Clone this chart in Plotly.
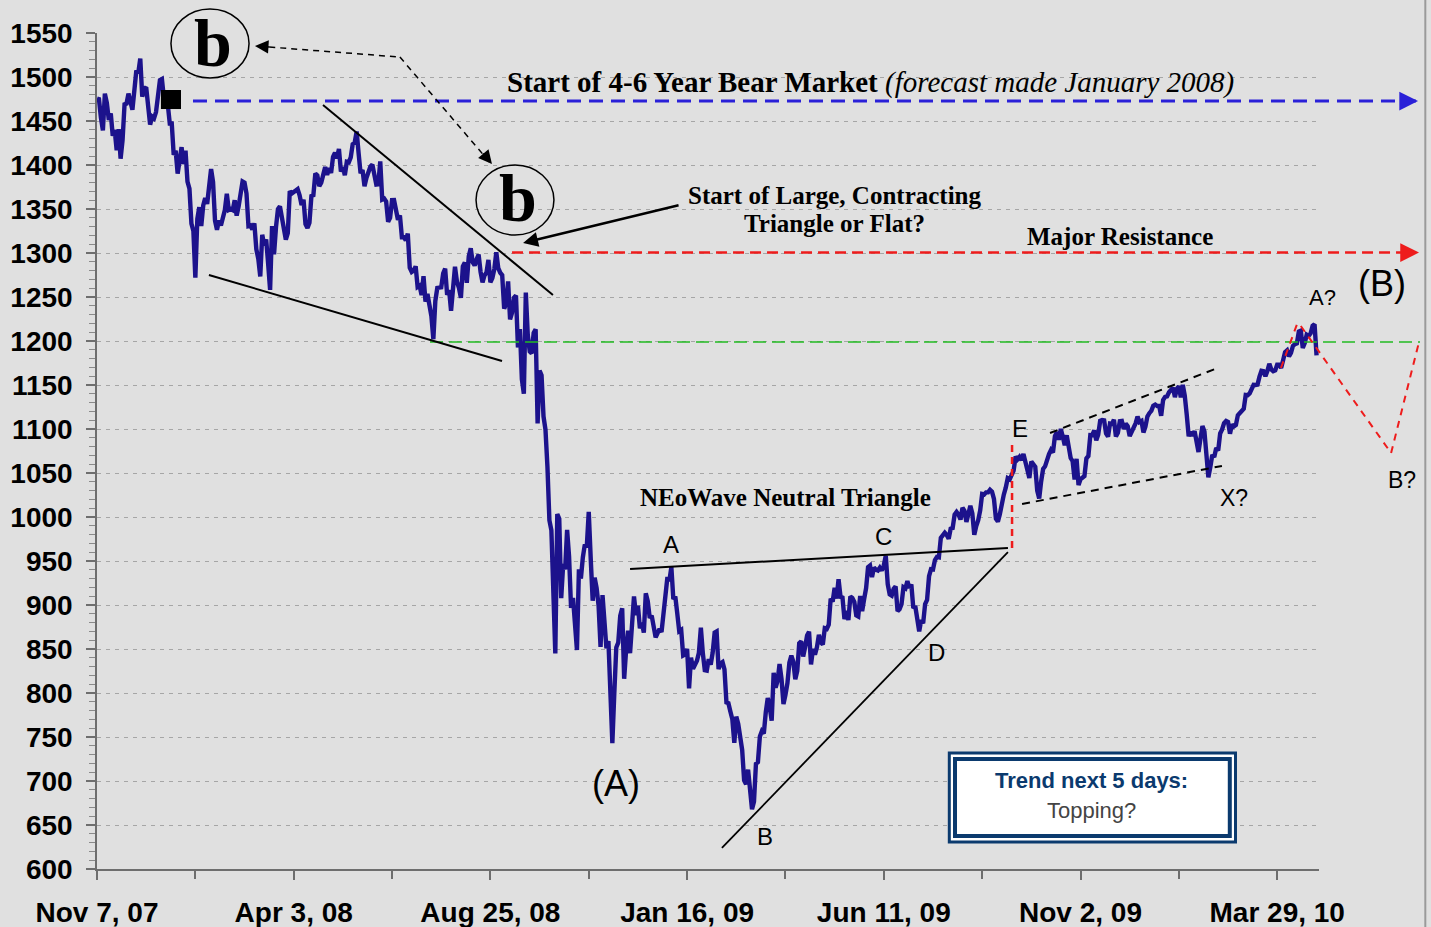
import plotly.graph_objects as go

# ---------------- data: S&P 500 daily values (trading days from Nov 7, 2007) ----------------
nov07 = [1475.6, 1474.8, 1453.7, 1439.2, 1481.1, 1470.6, 1451.2, 1458.7, 1433.3, 1439.7, 1416.8, 1440.7, 1407.2, 1428.2, 1469.0, 1469.7, 1481.1]
dec07 = [1472.4, 1462.8, 1485.0, 1507.3, 1504.7, 1521.0, 1477.7, 1486.6, 1488.4, 1468.0, 1445.9, 1455.0, 1453.0, 1460.1, 1484.5, 1496.5, 1497.7, 1476.3, 1478.5, 1468.4]
jan08 = [1447.2, 1447.2, 1411.6, 1416.2, 1390.2, 1409.1, 1420.3, 1401.0, 1416.3, 1381.0, 1373.2, 1333.3, 1325.2, 1272.0, 1338.6, 1352.1, 1330.6, 1354.0, 1362.3, 1355.8, 1378.6]
feb08 = [1395.4, 1380.8, 1336.6, 1326.5, 1336.9, 1331.3, 1339.1, 1348.9, 1367.2, 1348.9, 1350.0, 1348.8, 1360.0, 1342.5, 1353.1, 1371.8, 1381.3, 1380.0, 1367.7, 1330.6]
mar08 = [1331.3, 1326.8, 1333.7, 1304.3, 1293.4, 1273.4, 1320.7, 1308.8, 1315.5, 1288.1, 1258.0, 1330.7, 1298.4, 1329.5, 1349.9, 1353.0, 1341.1, 1325.8, 1315.2, 1322.7]
apr08 = [1370.2, 1367.5, 1369.3, 1370.4, 1372.5, 1365.5, 1354.5, 1360.6, 1332.8, 1328.3, 1334.4, 1364.7, 1365.6, 1390.3, 1388.2, 1375.9, 1379.9, 1388.8, 1397.8, 1388.8, 1396.4, 1390.9]
may08 = [1409.3, 1413.9, 1407.5, 1418.3, 1392.6, 1397.7, 1388.3, 1403.6, 1403.0, 1408.7, 1423.6, 1425.4, 1438.0, 1413.4, 1390.7, 1394.4, 1375.9, 1385.4, 1390.8, 1398.3, 1400.4]
jun08 = [1385.7, 1377.7, 1378.0, 1404.1, 1360.7, 1361.8, 1358.4, 1335.5, 1339.9, 1360.0, 1360.1, 1350.9, 1337.8, 1342.8, 1317.9, 1318.0, 1314.3, 1322.0, 1283.2, 1278.4, 1280.0]
jul08 = [1284.9, 1261.5, 1262.9, 1252.3, 1273.7, 1244.7, 1253.4, 1239.5, 1228.3, 1202.0, 1245.4, 1260.3, 1260.7, 1261.0, 1277.0, 1282.2, 1252.5, 1257.8, 1234.4, 1263.2, 1284.3, 1267.4]
aug08 = [1260.3, 1249.0, 1284.9, 1289.2, 1266.1, 1296.3, 1305.3, 1289.6, 1285.8, 1292.9, 1298.2, 1278.6, 1266.7, 1274.5, 1277.7, 1292.2, 1266.8, 1271.5, 1281.7, 1300.7, 1282.8]
sep08 = [1277.6, 1275.0, 1236.8, 1242.3, 1267.8, 1224.5, 1232.0, 1249.1, 1251.7, 1192.7, 1213.6, 1156.4, 1140.0, 1255.1, 1207.1, 1188.2, 1185.9, 1209.2, 1213.3, 1106.4, 1166.4]
oct08 = [1161.1, 1114.3, 1099.2, 1056.9, 996.2, 984.9, 909.9, 845.0, 1003.4, 998.0, 907.8, 946.4, 940.6, 985.4, 955.1, 896.8, 908.1, 876.8, 848.9, 940.5, 930.1, 954.1, 968.8]
nov08 = [966.3, 1005.8, 952.8, 904.9, 931.0, 919.2, 899.0, 852.3, 911.3, 873.3, 850.8, 859.1, 806.6, 743.0, 800.0, 851.8, 857.4, 887.7, 896.2]
dec08 = [816.2, 848.8, 870.7, 845.2, 876.1, 909.7, 888.7, 899.2, 873.6, 879.7, 868.6, 913.2, 904.4, 885.3, 887.9, 871.6, 863.2, 868.2, 872.8, 869.4, 890.6, 903.3]
jan09 = [931.8, 927.5, 943.0, 906.7, 909.7, 890.4, 870.3, 871.8, 842.6, 843.7, 850.1, 805.2, 840.2, 827.5, 832.0, 836.6, 845.7, 874.1, 845.1, 825.9]
feb09 = [825.4, 838.5, 832.2, 845.9, 868.6, 869.9, 827.2, 833.7, 835.2, 826.8, 789.2, 788.4, 778.9, 770.1, 743.3, 773.1, 764.9, 752.8, 735.1]
mar09 = [700.8, 696.3, 712.9, 682.6, 668.0, 676.5, 719.6, 721.4, 750.7, 756.6, 753.9, 778.1, 794.4, 784.0, 768.5, 822.9, 806.1, 813.9, 832.9, 815.9, 787.5, 797.9]
apr09 = [811.1, 834.4, 842.5, 835.5, 815.6, 825.2, 856.6, 858.7, 841.5, 852.1, 865.3, 869.6, 832.4, 850.1, 843.6, 851.9, 866.2, 857.5, 855.2, 873.6, 872.8]
may09 = [877.5, 907.2, 903.8, 919.5, 907.4, 929.2, 909.2, 908.4, 883.9, 893.1, 882.9, 909.7, 908.1, 903.5, 888.3, 887.0, 910.3, 893.1, 906.8, 919.1]
jun09 = [942.9, 944.7, 931.8, 942.5, 940.1, 939.1, 942.4, 939.2, 944.9, 956.0, 923.7, 912.0, 910.7, 918.4, 921.2, 893.0, 895.1, 900.9, 920.3, 918.9, 927.2, 919.3]
jul09 = [923.3, 896.4, 898.7, 881.0, 870.0, 882.7, 879.1, 901.1, 905.8, 932.7, 940.7, 940.4, 951.1, 954.6, 954.1, 976.3, 979.3, 982.2, 979.6, 975.2, 986.8, 987.5]
aug09 = [1002.6, 1005.7, 1002.7, 997.1, 1010.5, 1007.1, 994.4, 1005.8, 1012.7, 1004.1, 979.7, 989.7, 996.5, 1007.4, 1026.1, 1025.6, 1028.0, 1028.1, 1031.0, 1028.9, 1020.6]
sep09 = [998.0, 994.8, 1003.2, 1016.4, 1025.4, 1033.4, 1044.1, 1042.7, 1049.3, 1052.6, 1068.8, 1065.5, 1068.3, 1064.7, 1071.7, 1060.9, 1050.8, 1044.4, 1063.0, 1060.6, 1057.1]
oct09 = [1029.9, 1021.0, 1040.5, 1054.7, 1057.6, 1065.5, 1071.5, 1076.2, 1073.2, 1092.0, 1096.6, 1087.7, 1100.0, 1091.1, 1081.4, 1092.9, 1079.6, 1067.0, 1063.4, 1042.6, 1066.1, 1036.2]
nov09 = [1042.9, 1045.4, 1046.5, 1066.6, 1069.3, 1093.1, 1093.0, 1098.5, 1087.2, 1093.5, 1109.3, 1110.3, 1109.8, 1094.9, 1091.4, 1106.2, 1105.7, 1110.6, 1091.5, 1095.6]
dec09 = [1108.9, 1109.2, 1099.9, 1106.0, 1103.3, 1091.9, 1096.0, 1102.4, 1106.4, 1114.1, 1107.9, 1109.2, 1096.1, 1102.5, 1114.1, 1118.0, 1120.6, 1126.5, 1127.8, 1126.2, 1126.4, 1115.1]
jan10 = [1133.0, 1136.5, 1137.1, 1141.7, 1145.0, 1147.0, 1136.2, 1145.7, 1148.5, 1136.0, 1150.2, 1138.0, 1116.5, 1091.8, 1096.8, 1092.2, 1097.5, 1084.5, 1073.9]
feb10 = [1089.2, 1103.3, 1097.3, 1063.1, 1045.0, 1056.7, 1070.5, 1068.1, 1078.5, 1075.5, 1094.9, 1099.5, 1106.8, 1109.2, 1108.0, 1094.6, 1105.2, 1102.9, 1104.5]
mar10 = [1115.7, 1118.3, 1119.0, 1123.0, 1138.7, 1138.5, 1140.5, 1145.6, 1150.2, 1150.0, 1150.5, 1159.5, 1166.2, 1165.8, 1159.9, 1165.8, 1174.2, 1167.7, 1165.7, 1166.6, 1173.2, 1173.3, 1169.4]
apr10 = [1178.1, 1187.4, 1189.4, 1182.5, 1186.4, 1194.4, 1196.5, 1197.3, 1210.7, 1211.7, 1192.1, 1197.5, 1207.2, 1205.9, 1208.7, 1217.3, 1219.0, 1183.7]

tick_days = [0, 100, 200, 300, 400, 500, 600]
tick_labels = ["Nov 7, 07", "Apr 3, 08", "Aug 25, 08", "Jan 16, 09", "Jun 11, 09", "Nov 2, 09", "Mar 29, 10"]

# key levels
bear_start_level = 1472.7
resistance_level = 1300.5
support_level = 1199.0

months = [nov07, dec07, jan08, feb08, mar08, apr08, may08, jun08, jul08, aug08, sep08, oct08,
          nov08, dec08, jan09, feb09, mar09, apr09, may09, jun09, jul09, aug09, sep09, oct09,
          nov09, dec09, jan10, feb10, mar10, apr10]
prices = [v for m in months for v in m]
days = list(range(len(prices)))

# ---------------- axes geometry ----------------
X_MAX = 621.25
Y_MIN, Y_MAX = 600, 1550


def X(d):
    return d / X_MAX


def Y(p):
    return (p - Y_MIN) / (Y_MAX - Y_MIN)


SERIF = "Liberation Serif, Times New Roman, serif"
SANS = "Liberation Sans, Arial, sans-serif"
NAVY = "#1c128c"

fig = go.Figure()
fig.add_trace(go.Scatter(x=days, y=prices, mode="lines",
                         line=dict(color=NAVY, width=4.4), hoverinfo="skip", showlegend=False))

shapes = []


def line(d0, p0, d1, p1, color="black", width=2, dash="solid"):
    shapes.append(dict(type="line", xref="paper", yref="paper",
                       x0=X(d0), y0=Y(p0), x1=X(d1), y1=Y(p1),
                       line=dict(color=color, width=width, dash=dash), layer="above"))


# horizontal level lines
line(48.8, bear_start_level, 670.5, bear_start_level, "#2a20d8", 3, "14px,8px")
line(211.0, resistance_level, 670.5, resistance_level, "#ee1c1c", 2.5, "11px,6px")
line(169.3, support_level, 672.6, support_level, "#22bb22", 1.5, "13px,6px")

# trendlines
line(114.9, 1468.2, 231.8, 1252.3, "black", 2)
line(56.9, 1275.0, 205.9, 1177.3, "black", 2)
line(271.0, 940.9, 463.1, 964.8, "black", 2)
line(317.7, 623.9, 463.1, 960.2, "black", 1.8)
line(465.2, 964.8, 465.2, 1085.2, "#ee1c1c", 2.5, "7px,5px")
line(484.5, 1095.5, 568.4, 1168.2, "black", 2, "8px,6px")
line(470.3, 1014.8, 571.9, 1058.0, "black", 2, "8px,6px")

# forecast zigzag
line(601.9, 1169.3, 610.1, 1219.3, "#ee1c1c", 2, "7px,6px")
line(612.0, 1217.0, 657.9, 1072.7, "#ee1c1c", 2, "7px,6px")
line(657.9, 1072.7, 672.1, 1198.9, "#ee1c1c", 2, "7px,6px")

# dashed connector between the two "b" circles
line(82.0, 1535.0, 154.0, 1522.7, "black", 1.5, "6px,5px")
line(154.0, 1522.7, 199.5, 1403.5, "black", 1.5, "6px,5px")

# circles
shapes.append(dict(type="circle", xref="paper", yref="paper",
                   x0=X(37.6), x1=X(77.3), y0=Y(1498.9), y1=Y(1577.3),
                   line=dict(color="black", width=1.5)))
shapes.append(dict(type="circle", xref="paper", yref="paper",
                   x0=X(192.7), x1=X(232.3), y0=Y(1320.5), y1=Y(1400.0),
                   line=dict(color="black", width=1.5)))

# black square (start marker)
shapes.append(dict(type="rect", xref="paper", yref="paper",
                   x0=X(32.5), x1=X(42.7), y0=Y(1463.6), y1=Y(1485.2),
                   fillcolor="black", line=dict(width=0)))

# trend box (double border)
shapes.append(dict(type="rect", xref="paper", yref="paper",
                   x0=X(433.3), x1=X(578.8), y0=Y(630.7), y1=Y(731.8),
                   fillcolor="white", line=dict(color="#0b3a6e", width=3)))
shapes.append(dict(type="rect", xref="paper", yref="paper",
                   x0=X(436.2), x1=X(575.9), y0=Y(637.5), y1=Y(725.0),
                   fillcolor="rgba(0,0,0,0)", line=dict(color="#0b3a6e", width=4)))

# right frame border
shapes.append(dict(type="line", xref="paper", yref="paper",
                   x0=X(675.3), x1=X(675.3), y0=-0.1, y1=1.1,
                   line=dict(color="#9a9a9a", width=2)))

annotations = []


def text(d, p, s, size, family=SANS, color="black", **kw):
    annotations.append(dict(x=X(d), y=Y(p), xref="paper", yref="paper", text=s,
                            xanchor="center", yanchor="middle",
                            showarrow=False, font=dict(family=family, size=size, color=color), **kw))


def head(d, p, ax, ay, color, width, size, style):
    annotations.append(dict(x=X(d), y=Y(p), xref="paper", yref="paper", text="",
                            showarrow=True, ax=ax, ay=ay, arrowhead=style, arrowsize=size,
                            arrowwidth=width, arrowcolor=color, standoff=0))


text(59.0, 1538.6, "<b>b</b>", 68, SERIF)
text(214.0, 1362.5, "<b>b</b>", 68, SERIF)
text(393.0, 1494.3, "<b>Start of 4-6 Year Bear Market</b> <i>(forecast made January 2008)</i>", 29, SERIF)
text(374.7, 1364.8, "<b>Start of Large, Contracting</b>", 25, SERIF)
text(374.7, 1333.0, "<b>Triangle or Flat?</b>", 25, SERIF)
text(520.0, 1318.2, "<b>Major Resistance</b>", 25, SERIF)
text(349.8, 1021.6, "<b>NEoWave Neutral Triangle</b>", 25, SERIF)
text(653.3, 1265.9, "(B)", 36)
text(622.8, 1248.9, "A?", 22)
text(663.4, 1042.0, "B?", 23)
text(578.0, 1021.6, "X?", 23)
text(291.8, 969.3, "A", 24)
text(400.1, 977.3, "C", 24)
text(427.0, 845.5, "D", 24)
text(339.6, 637.5, "B", 24)
text(469.2, 1101.1, "E", 24)
text(263.9, 696.6, "(A)", 36)
text(505.8, 701.1, "<b>Trend next 5 days:</b>", 22, SANS, "#0b3a6e")
text(505.8, 667.0, "Topping?", 22, SANS, "#444444")

# arrowheads
head(671.6, bear_start_level, -16, 0, "#2a20d8", 2.5, 1.5, 2)
head(672.1, resistance_level, -16, 0, "#ee1c1c", 2.5, 1.5, 2)
head(80.3, 1535.2, 16, 1, "black", 1.5, 1.8, 2)
head(200.8, 1401.1, -10, -12, "black", 1.5, 1.8, 2)
head(216.6, 1311.4, 157, -38, "black", 2.5, 1.2, 2)

fig.update_layout(
    width=1431, height=927, autosize=False,
    margin=dict(l=97, r=112, t=33, b=58),
    paper_bgcolor="#e0e0e0", plot_bgcolor="#e0e0e0",
    shapes=shapes, annotations=annotations,
    showlegend=False,
    xaxis=dict(range=[0, X_MAX], tickmode="array", tickvals=tick_days, ticktext=tick_labels,
               automargin=False,
               showgrid=False, zeroline=False, showline=True, linecolor="#6e6e6e", linewidth=1.5,
               ticks="outside", ticklen=9, tickcolor="#6e6e6e", tickwidth=1.5,
               tickfont=dict(family=SANS, size=28, color="black", weight="bold"),
               ticklabelstandoff=9,
               minor=dict(tickmode="linear", tick0=0, dtick=50, ticks="outside", ticklen=8,
                          tickcolor="#6e6e6e", tickwidth=1.5, showgrid=False)),
    yaxis=dict(range=[Y_MIN, Y_MAX], tickmode="linear", tick0=600, dtick=50,
               automargin=False,
               showgrid=True, gridcolor="#a6a6a6", griddash="4px,5px", gridwidth=1,
               zeroline=False, showline=True, linecolor="#6e6e6e", linewidth=1.5,
               ticks="outside", ticklen=9, tickcolor="#6e6e6e", tickwidth=1.5,
               tickfont=dict(family=SANS, size=28, color="black", weight="bold"),
               ticklabelstandoff=8,
               minor=dict(tickmode="linear", tick0=600, dtick=10, ticks="outside", ticklen=6,
                          tickcolor="#8a8a8a", tickwidth=1, showgrid=False)),
)

fig.write_html("out.html")
